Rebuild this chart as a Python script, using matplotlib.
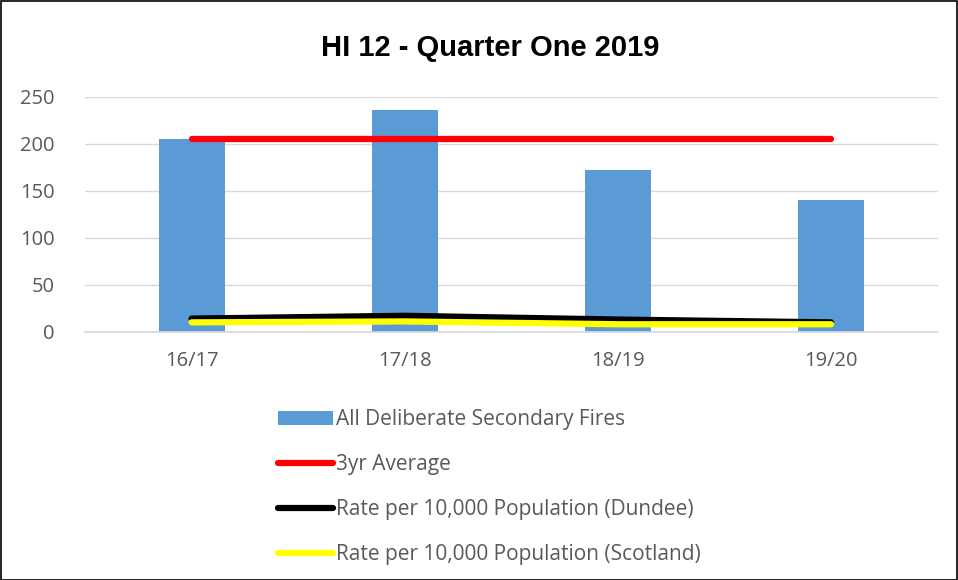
import numpy as np
import matplotlib.pyplot as plt
from matplotlib.patches import Rectangle

# data
years = ["16/17", "17/18", "18/19", "19/20"]
fires = [205, 236, 172, 140]
avg_3yr = [205, 205, 205, 205]
rate_dundee = [14, 17, 13, 10]
rate_scotland = [10, 11, 8, 8]

plt.rcParams['font.family'] = ['Open Sans', 'DejaVu Sans']

fig = plt.figure(figsize=(9.58, 5.80), dpi=100)
ax = fig.add_axes([0.0887, 0.428, 0.890, 0.405])

x = np.arange(len(years))
bars = ax.bar(x, fires, width=0.31, color="#5b9bd5", label="All Deliberate Secondary Fires", zorder=2)
l1, = ax.plot(x, avg_3yr, color="#ff0000", lw=4.5, solid_capstyle="round", label="3yr Average", zorder=3)
l2, = ax.plot(x, rate_dundee, color="black", lw=4.5, solid_capstyle="round",
              label="Rate per 10,000 Population (Dundee)", zorder=3)
l3, = ax.plot(x, rate_scotland, color="#ffff00", lw=4.5, solid_capstyle="round",
              label="Rate per 10,000 Population (Scotland)", zorder=4)

ax.set_xlim(-0.5, 3.5)
ax.set_ylim(0, 250)
ax.set_yticks([0, 50, 100, 150, 200, 250])
ax.set_xticks(x)
ax.set_xticklabels(years)
ax.grid(axis="y", color="#d9d9d9", lw=1, zorder=0)
for s in ["top", "right", "left"]:
    ax.spines[s].set_visible(False)
ax.spines["bottom"].set_color("#d9d9d9")
ax.spines["bottom"].set_linewidth(1.2)
ax.tick_params(length=0, labelsize=14.5, colors="#595959", pad=14)
ax.tick_params(axis="y", pad=22)

fig.text(0.512, 0.917, "HI 12 - Quarter One 2019", ha="center", va="center",
         fontsize=21, fontweight="bold", family="Liberation Sans")

fig.legend([bars, l1, l2, l3], [h.get_label() for h in [bars, l1, l2, l3]],
           loc="upper left", bbox_to_anchor=(0.2795, 0.312), frameon=False,
           fontsize=15, labelcolor="#595959", handlelength=2.65, handletextpad=0.12,
           labelspacing=1.15, borderpad=0)

fig.patches.append(Rectangle((0.001, 0.0), 0.998, 0.998, transform=fig.transFigure,
                             fill=False, edgecolor="black", lw=1.2))

fig.savefig("out.png", dpi=100)
